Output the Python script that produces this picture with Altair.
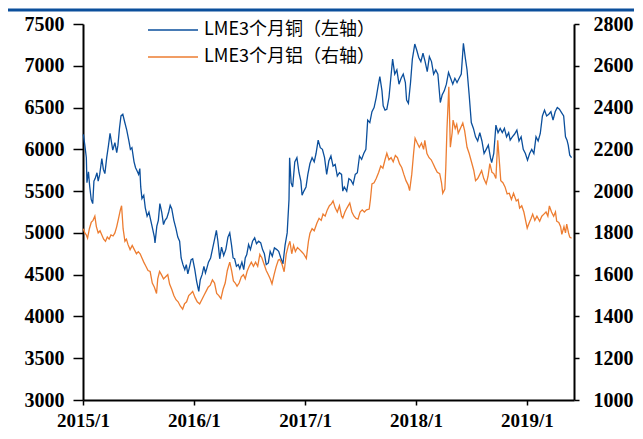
import altair as alt
import pandas as pd

# ---------------- data ----------------
cu_dates = [
    "2015-01-02", "2015-01-07", "2015-01-12", "2015-01-14", "2015-01-19", "2015-01-23", "2015-01-28",
    "2015-02-02", "2015-02-06", "2015-02-10", "2015-02-16", "2015-02-20", "2015-02-25", "2015-03-04",
    "2015-03-09", "2015-03-14", "2015-03-20", "2015-03-26", "2015-03-31", "2015-04-05", "2015-04-09",
    "2015-04-16", "2015-04-22", "2015-04-26", "2015-05-01", "2015-05-06", "2015-05-12", "2015-05-18",
    "2015-05-25", "2015-06-01", "2015-06-06", "2015-06-11", "2015-06-18", "2015-06-23", "2015-06-27",
    "2015-07-03", "2015-07-07", "2015-07-10", "2015-07-14", "2015-07-20", "2015-07-25", "2015-07-31",
    "2015-08-06", "2015-08-12", "2015-08-18", "2015-08-24", "2015-08-26", "2015-09-01", "2015-09-06",
    "2015-09-11", "2015-09-17", "2015-09-23", "2015-09-28", "2015-10-04", "2015-10-10", "2015-10-15",
    "2015-10-20", "2015-10-27", "2015-11-03", "2015-11-09", "2015-11-15", "2015-11-20", "2015-11-26",
    "2015-12-02", "2015-12-07", "2015-12-12", "2015-12-18", "2015-12-23", "2015-12-28", "2016-01-04",
    "2016-01-10", "2016-01-17", "2016-01-22", "2016-01-28", "2016-02-03", "2016-02-08", "2016-02-12",
    "2016-02-18", "2016-02-25", "2016-03-03", "2016-03-10", "2016-03-15", "2016-03-20", "2016-03-26",
    "2016-04-01", "2016-04-08", "2016-04-15", "2016-04-22", "2016-04-28", "2016-05-04", "2016-05-09",
    "2016-05-14", "2016-05-20", "2016-05-26", "2016-05-31", "2016-06-07", "2016-06-13", "2016-06-18",
    "2016-06-23", "2016-06-29", "2016-07-05", "2016-07-12", "2016-07-19", "2016-07-25", "2016-08-01",
    "2016-08-08", "2016-08-14", "2016-08-20", "2016-08-26", "2016-09-02", "2016-09-08", "2016-09-15",
    "2016-09-22", "2016-09-30", "2016-10-06", "2016-10-13", "2016-10-20", "2016-10-27", "2016-11-03",
    "2016-11-09", "2016-11-11", "2016-11-16", "2016-11-21", "2016-11-28", "2016-12-05", "2016-12-12",
    "2016-12-18", "2016-12-22", "2016-12-28", "2017-01-04", "2017-01-10", "2017-01-17", "2017-01-24",
    "2017-01-31", "2017-02-06", "2017-02-13", "2017-02-20", "2017-02-27", "2017-03-06", "2017-03-13",
    "2017-03-20", "2017-03-27", "2017-04-03", "2017-04-10", "2017-04-17", "2017-04-24", "2017-05-01",
    "2017-05-05", "2017-05-10", "2017-05-18", "2017-05-25", "2017-06-01", "2017-06-08", "2017-06-15",
    "2017-06-22", "2017-06-29", "2017-07-06", "2017-07-13", "2017-07-20", "2017-07-26", "2017-08-02",
    "2017-08-09", "2017-08-16", "2017-08-23", "2017-08-29", "2017-09-04", "2017-09-11", "2017-09-15",
    "2017-09-21", "2017-09-27", "2017-10-04", "2017-10-10", "2017-10-16", "2017-10-23", "2017-10-30",
    "2017-11-06", "2017-11-13", "2017-11-20", "2017-11-27", "2017-12-01", "2017-12-07", "2017-12-14",
    "2017-12-20", "2017-12-28", "2018-01-04", "2018-01-10", "2018-01-17", "2018-01-24", "2018-01-31",
    "2018-02-07", "2018-02-14", "2018-02-21", "2018-02-28", "2018-03-07", "2018-03-14", "2018-03-22",
    "2018-03-28", "2018-04-04", "2018-04-11", "2018-04-18", "2018-04-25", "2018-05-02", "2018-05-09",
    "2018-05-16", "2018-05-23", "2018-05-30", "2018-06-06", "2018-06-12", "2018-06-18", "2018-06-25",
    "2018-07-02", "2018-07-09", "2018-07-16", "2018-07-23", "2018-07-30", "2018-08-06", "2018-08-13",
    "2018-08-20", "2018-08-27", "2018-09-03", "2018-09-07", "2018-09-14", "2018-09-21", "2018-09-28",
    "2018-10-05", "2018-10-12", "2018-10-19", "2018-10-26", "2018-11-02", "2018-11-07", "2018-11-14",
    "2018-11-21", "2018-11-29", "2018-12-06", "2018-12-13", "2018-12-20", "2018-12-27", "2019-01-03",
    "2019-01-10", "2019-01-17", "2019-01-24", "2019-01-31", "2019-02-07", "2019-02-14", "2019-02-21",
    "2019-02-28", "2019-03-07", "2019-03-14", "2019-03-21", "2019-03-28", "2019-04-04", "2019-04-11",
    "2019-04-18", "2019-04-25", "2019-05-02", "2019-05-08", "2019-05-13", "2019-05-17", "2019-05-22",
    "2019-05-28",
]
cu_vals = [
    6180, 6050, 5900, 5600, 5730, 5560, 5400,
    5350, 5620, 5650, 5720, 5620, 5700, 5890,
    5760, 5710, 5900, 6050, 6190, 6080, 5990,
    6080, 5960, 6050, 6250, 6400, 6420, 6330,
    6230, 6100, 6000, 6020, 5850, 5780, 5750,
    5700, 5770, 5550, 5410, 5450, 5300, 5200,
    5250, 5150, 5050, 4950, 4880, 5080, 5150,
    5350, 5250, 5100, 5150, 5180, 5250, 5330,
    5290, 5150, 5050, 4950, 4900, 4700, 4620,
    4560, 4620, 4510, 4600, 4680, 4690, 4560,
    4420, 4300, 4440, 4500, 4600, 4520, 4570,
    4650, 4700, 4820, 4940, 5030, 4900, 4690,
    4830, 4730, 4800, 4950, 5000, 4850, 4700,
    4690, 4600, 4620, 4570, 4650, 4560, 4700,
    4740, 4860, 4800, 4900, 4940, 4870, 4900,
    4880, 4800, 4750, 4620, 4640, 4780, 4720,
    4820, 4800, 4780, 4700, 4630, 4850, 5000,
    5400, 5900, 5600, 5550, 5850, 5900, 5720,
    5620, 5450, 5500, 5550, 5700, 5830, 5900,
    5850, 5950, 6110, 6020, 6000, 5900, 5700,
    5860, 5920, 5800, 5820, 5680, 5720, 5700,
    5500, 5550, 5500, 5650, 5630, 5580, 5700,
    5720, 5920, 5880, 5950, 6000, 6350, 6320,
    6450, 6500, 6620, 6750, 6870, 6700, 6520,
    6470, 6480, 6620, 6850, 7080, 6900, 6950,
    6780, 6850, 6900, 6800, 6590, 6550, 6800,
    7080, 7260, 7180, 7100, 7050, 7150, 7050,
    6930, 7110, 7050, 6900, 6950, 6900, 6560,
    6650, 6700, 6780, 6920, 6850, 6780, 6850,
    6800, 6850, 6900, 7270, 7100, 6950, 6650,
    6320, 6250, 6150, 6100, 6200, 6100, 5950,
    6000, 6050, 5900, 5840, 5950, 6290, 6200,
    6250, 6200, 6250, 6150, 6200, 6110, 6150,
    6180, 6230, 6100, 6150, 6000, 5950, 5870,
    5950, 6000, 5950, 6150, 6100, 6190, 6400,
    6470, 6400, 6420, 6450, 6350, 6450, 6500,
    6480, 6440, 6400, 6150, 6110, 6050, 5930,
    5900,
]

al_dates = [
    "2015-01-02", "2015-01-07", "2015-01-12", "2015-01-16", "2015-01-22", "2015-01-28", "2015-02-03",
    "2015-02-09", "2015-02-14", "2015-02-20", "2015-02-26", "2015-03-04", "2015-03-10", "2015-03-16",
    "2015-03-22", "2015-03-28", "2015-04-03", "2015-04-10", "2015-04-16", "2015-04-22", "2015-04-28",
    "2015-05-04", "2015-05-08", "2015-05-13", "2015-05-19", "2015-05-24", "2015-05-29", "2015-06-05",
    "2015-06-12", "2015-06-19", "2015-06-26", "2015-07-02", "2015-07-08", "2015-07-14", "2015-07-20",
    "2015-07-27", "2015-08-03", "2015-08-10", "2015-08-17", "2015-08-24", "2015-08-31", "2015-09-04",
    "2015-09-10", "2015-09-16", "2015-09-23", "2015-09-30", "2015-10-07", "2015-10-13", "2015-10-20",
    "2015-10-27", "2015-11-03", "2015-11-10", "2015-11-17", "2015-11-25", "2015-12-01", "2015-12-08",
    "2015-12-15", "2015-12-22", "2015-12-28", "2016-01-05", "2016-01-12", "2016-01-20", "2016-01-27",
    "2016-02-03", "2016-02-10", "2016-02-17", "2016-02-24", "2016-03-02", "2016-03-09", "2016-03-16",
    "2016-03-23", "2016-03-30", "2016-04-06", "2016-04-13", "2016-04-20", "2016-04-28", "2016-05-04",
    "2016-05-10", "2016-05-16", "2016-05-22", "2016-05-29", "2016-06-05", "2016-06-12", "2016-06-18",
    "2016-06-24", "2016-07-01", "2016-07-08", "2016-07-15", "2016-07-22", "2016-07-29", "2016-08-05",
    "2016-08-12", "2016-08-19", "2016-08-26", "2016-09-02", "2016-09-08", "2016-09-14", "2016-09-21",
    "2016-09-28", "2016-10-05", "2016-10-10", "2016-10-17", "2016-10-24", "2016-10-31", "2016-11-07",
    "2016-11-12", "2016-11-18", "2016-11-24", "2016-11-30", "2016-12-07", "2016-12-14", "2016-12-20",
    "2016-12-27", "2017-01-05", "2017-01-12", "2017-01-17", "2017-01-24", "2017-01-31", "2017-02-09",
    "2017-02-16", "2017-02-23", "2017-03-01", "2017-03-08", "2017-03-15", "2017-03-22", "2017-03-29",
    "2017-04-03", "2017-04-10", "2017-04-17", "2017-04-24", "2017-05-01", "2017-05-05", "2017-05-12",
    "2017-05-19", "2017-05-28", "2017-06-04", "2017-06-11", "2017-06-17", "2017-06-24", "2017-07-01",
    "2017-07-08", "2017-07-15", "2017-07-22", "2017-07-31", "2017-08-04", "2017-08-09", "2017-08-16",
    "2017-08-23", "2017-08-31", "2017-09-07", "2017-09-14", "2017-09-21", "2017-09-27", "2017-10-04",
    "2017-10-11", "2017-10-18", "2017-10-25", "2017-11-01", "2017-11-08", "2017-11-15", "2017-11-22",
    "2017-11-29", "2017-12-06", "2017-12-11", "2017-12-18", "2017-12-24", "2017-12-29", "2018-01-05",
    "2018-01-12", "2018-01-19", "2018-01-26", "2018-01-30", "2018-02-06", "2018-02-13", "2018-02-20",
    "2018-02-26", "2018-03-05", "2018-03-12", "2018-03-20", "2018-03-26", "2018-03-30", "2018-04-06",
    "2018-04-09", "2018-04-13", "2018-04-19", "2018-04-24", "2018-04-30", "2018-05-03", "2018-05-10",
    "2018-05-15", "2018-05-20", "2018-05-27", "2018-06-04", "2018-06-10", "2018-06-18", "2018-06-25",
    "2018-07-04", "2018-07-10", "2018-07-16", "2018-07-23", "2018-07-30", "2018-08-05", "2018-08-12",
    "2018-08-20", "2018-08-26", "2018-09-01", "2018-09-08", "2018-09-14", "2018-09-21", "2018-09-27",
    "2018-10-03", "2018-10-07", "2018-10-14", "2018-10-21", "2018-10-28", "2018-11-04", "2018-11-11",
    "2018-11-18", "2018-11-27", "2018-12-03", "2018-12-08", "2018-12-15", "2018-12-22", "2019-01-02",
    "2019-01-09", "2019-01-15", "2019-01-20", "2019-01-27", "2019-02-03", "2019-02-12", "2019-02-19",
    "2019-02-26", "2019-03-05", "2019-03-11", "2019-03-16", "2019-03-23", "2019-03-30", "2019-04-05",
    "2019-04-09", "2019-04-16", "2019-04-22", "2019-04-26", "2019-05-03", "2019-05-08", "2019-05-12",
    "2019-05-18", "2019-05-22", "2019-05-28",
]
al_vals = [
    1820, 1800, 1790, 1775, 1820, 1850, 1860,
    1880, 1830, 1800, 1810, 1790, 1770, 1760,
    1780, 1770, 1790, 1785, 1800, 1830, 1870,
    1910, 1930, 1820, 1760, 1770, 1745, 1720,
    1740, 1720, 1700, 1710, 1700, 1680, 1660,
    1640, 1620, 1615, 1560, 1540, 1510, 1580,
    1615, 1600, 1580, 1590, 1600, 1555, 1530,
    1500, 1480, 1470, 1450, 1435, 1460, 1470,
    1500, 1510, 1520, 1490, 1470, 1460, 1480,
    1500, 1520, 1540, 1550, 1575, 1560, 1510,
    1500, 1485, 1530, 1560, 1620, 1660, 1620,
    1570, 1560, 1545, 1560, 1590, 1600, 1580,
    1615, 1640, 1660, 1640, 1660, 1640, 1697,
    1680, 1650, 1620, 1600, 1580, 1556, 1600,
    1640, 1670, 1673, 1650, 1614, 1700, 1740,
    1760, 1700, 1740, 1711, 1730, 1720, 1711,
    1700, 1677, 1760, 1798, 1820, 1810, 1847,
    1870, 1860, 1890, 1880, 1910, 1930, 1940,
    1953, 1920, 1900, 1930, 1880, 1871, 1900,
    1920, 1943, 1900, 1880, 1870, 1866, 1900,
    1910, 1900, 1910, 1914, 1960, 2035, 2040,
    2060, 2089, 2120, 2110, 2150, 2181, 2150,
    2160, 2140, 2171, 2160, 2130, 2113, 2080,
    2050, 2030, 2002, 2080, 2180, 2253, 2230,
    2210, 2230, 2200, 2243, 2180, 2160, 2150,
    2132, 2110, 2090, 2084, 2040, 1990, 2010,
    2110, 2300, 2500, 2210, 2280, 2340, 2300,
    2320, 2277, 2300, 2326, 2290, 2210, 2180,
    2132, 2100, 2050, 2060, 2080, 2098, 2060,
    2035, 2070, 2132, 2090, 2084, 2060, 2243,
    2130, 2050, 2040, 2020, 1987, 1990, 1960,
    1990, 1953, 1960, 1919, 1930, 1900, 1823,
    1850, 1870, 1890, 1860, 1880, 1856, 1880,
    1890, 1900, 1880, 1929, 1900, 1880, 1900,
    1856, 1850, 1830, 1793, 1830, 1800, 1842,
    1800, 1780, 1774,
]

CU = "LME3个月铜（左轴）"
AL = "LME3个月铝（右轴）"
series_names = [CU, AL]
series_colors = ["#0b4f9c", "#ed7d31"]
year_ticks = [2015, 2016, 2017, 2018, 2019]
cu_ticks = [3000, 3500, 4000, 4500, 5000, 5500, 6000, 6500, 7000, 7500]
al_ticks = [1000, 1200, 1400, 1600, 1800, 2000, 2200, 2400, 2600, 2800]

cu_df = pd.DataFrame({"date": pd.to_datetime(cu_dates), "value": cu_vals, "series": CU})
al_df = pd.DataFrame({"date": pd.to_datetime(al_dates), "value": al_vals, "series": AL})

AXIS_FONT = "Liberation Serif"

x_enc = alt.X(
    "date:T",
    scale=alt.Scale(domain=[alt.DateTime(year=2015, month=1, date=1),
                            alt.DateTime(year=2019, month=6, date=5)]),
    axis=alt.Axis(
        values=[alt.DateTime(year=y, month=1, date=1) for y in year_ticks],
        labelExpr="timeFormat(datum.value, '%Y') + '/1'",
        title=None, grid=False, tickSize=5, labelPadding=6,
        domainColor="black", domainWidth=2, tickColor="black", tickWidth=1.5,
        labelFont=AXIS_FONT, labelFontSize=19, labelFontWeight="bold", labelColor="black",
        labelFlush=False,
    ),
)

color_enc = alt.Color(
    "series:N",
    scale=alt.Scale(domain=series_names, range=series_colors),
    legend=alt.Legend(
        title=None, orient="none", legendX=64, legendY=-3,
        symbolType="stroke", symbolSize=2500, symbolStrokeWidth=1.5,
        labelFont="Noto Sans CJK SC", labelFontSize=18, labelColor="black",
        labelOffset=5, clipHeight=18, rowPadding=9, padding=0, labelLimit=400,
    ),
)

cu_line = alt.Chart(cu_df).mark_line(strokeWidth=1.3).encode(
    x=x_enc,
    y=alt.Y(
        "value:Q",
        scale=alt.Scale(domain=[3000, 7500], nice=False, zero=False),
        axis=alt.Axis(
            orient="left", values=cu_ticks, title=None, grid=False, format="d",
            tickSize=10, labelPadding=9,
            domainColor="black", domainWidth=2, tickColor="black", tickWidth=1.5,
            labelFont=AXIS_FONT, labelFontSize=20, labelFontWeight="bold", labelColor="black",
            labelFlush=False,
        ),
    ),
    color=color_enc,
)

al_line = alt.Chart(al_df).mark_line(strokeWidth=1.3).encode(
    x=x_enc,
    y=alt.Y(
        "value:Q",
        scale=alt.Scale(domain=[1000, 2800], nice=False, zero=False),
        axis=alt.Axis(
            orient="right", values=al_ticks, title=None, grid=False, format="d",
            tickSize=5, labelPadding=14,
            domainColor="black", domainWidth=2, tickColor="black", tickWidth=1.5,
            labelFont=AXIS_FONT, labelFontSize=20, labelFontWeight="bold", labelColor="black",
            labelFlush=False,
        ),
    ),
    color=color_enc,
)

top_bar = alt.Chart(cu_df.head(1)).mark_rule(color="#0b4f9c", strokeWidth=3).encode(
    x=alt.value(-78), x2=alt.value(562), y=alt.value(-14)
)

chart = (
    alt.layer(cu_line, al_line, top_bar)
    .resolve_scale(y="independent")
    .properties(
        width=491, height=376,
        autosize=alt.AutoSizeParams(type="none"),
        padding={"left": 75, "top": 16, "right": 60, "bottom": 31},
    )
    .configure_view(stroke=None)
)

chart.save("out.html", embed_options={"renderer": "svg", "actions": False})
